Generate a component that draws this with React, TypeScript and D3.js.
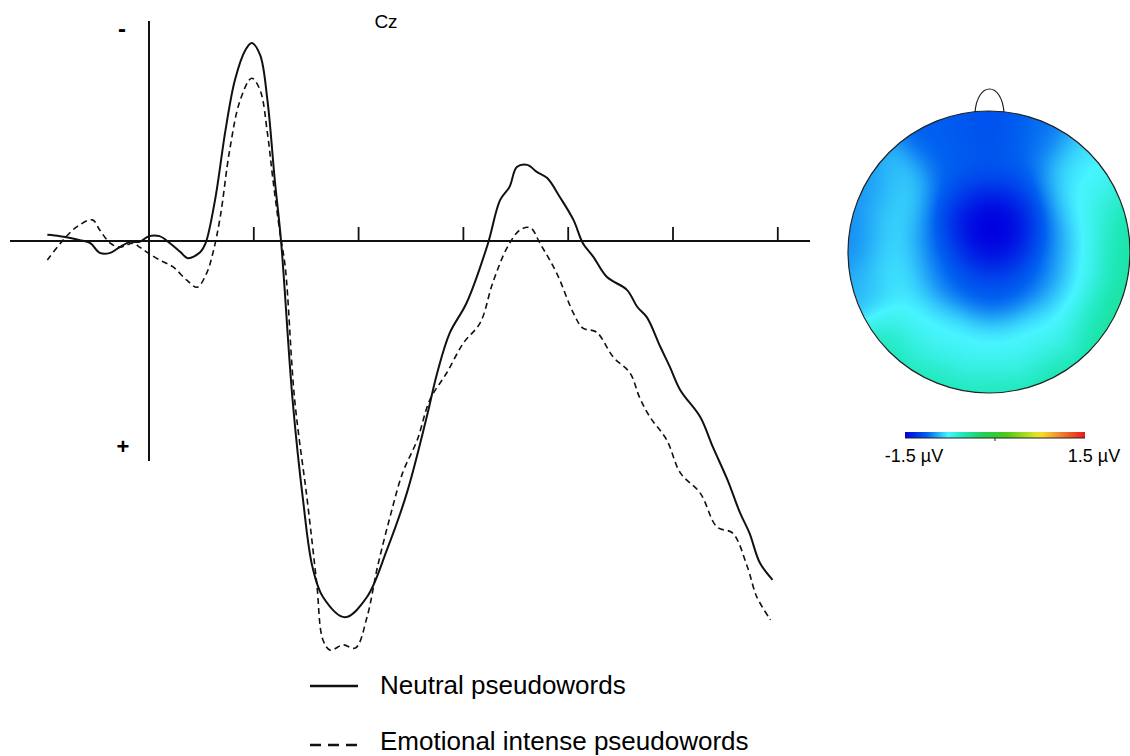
import { useMemo } from "react";
import * as d3 from "d3";

// ERP at Cz, time in ms, amplitude in µV (negative plotted up)
const neutralTime = [-97, -85, -75, -66, -56, -47, -37, -28, -18, -9, 0, 10, 20, 30, 37, 49, 54, 63, 73, 82, 92, 98, 106, 113, 120, 126, 137, 147, 156, 166, 187, 208, 227, 246, 265, 275, 287, 303, 323, 335, 344, 351, 361, 370, 380, 392, 405, 414, 424, 437, 456, 466, 475, 488, 497, 507, 526, 538, 552, 564, 573, 583, 595];
const neutralAmp = [-0.14, -0.11, -0.07, -0.02, 0.05, 0.27, 0.27, 0.14, 0.02, 0.02, -0.11, -0.11, 0.05, 0.25, 0.39, 0.25, 0.05, -0.93, -2.52, -3.66, -4.34, -4.5, -4.23, -3.2, -1.39, 0, 3.61, 5.89, 7.41, 8.09, 8.55, 8.09, 7.02, 5.73, 4.0, 3.0, 2.09, 1.41, 0.09, -0.93, -1.23, -1.68, -1.73, -1.57, -1.43, -1.0, -0.48, 0.05, 0.36, 0.82, 1.11, 1.5, 1.73, 2.41, 2.86, 3.39, 4.0, 4.68, 5.43, 6.18, 6.64, 7.32, 7.7];

const emotionalTime = [-97, -82, -69, -54, -47, -37, -28, -15, -9, -1, 10, 23, 36, 46, 55, 61, 68, 77, 87, 98, 106, 113, 118, 125, 130, 139, 151, 160, 166, 173, 185, 197, 208, 218, 230, 242, 256, 268, 284, 300, 316, 328, 342, 354, 364, 373, 389, 405, 414, 427, 443, 459, 468, 478, 494, 507, 526, 542, 557, 571, 580, 593];
const emotionalAmp = [0.43, -0.02, -0.32, -0.48, -0.25, 0.05, 0.14, 0.05, 0.14, 0.27, 0.43, 0.59, 0.89, 1.05, 0.73, 0.27, -0.55, -2.07, -3.2, -3.7, -3.43, -2.45, -1.45, -0.18, 0.59, 3.61, 5.89, 7.77, 9.07, 9.3, 9.18, 9.25, 8.55, 7.41, 6.27, 5.27, 4.52, 3.61, 3.0, 2.32, 1.86, 0.95, 0.14, -0.25, -0.3, 0.05, 0.73, 1.64, 1.98, 2.07, 2.64, 3.0, 3.55, 4.0, 4.52, 5.27, 5.73, 6.5, 6.64, 7.41, 8.09, 8.61];

const tickTimes = [100, 200, 300, 400, 500, 600];
const legendLabels = ["Neutral pseudowords", "Emotional intense pseudowords"];

// scalp map: sampled positions on the unit head (x right, y toward back) and amplitude in µV
const sensorX = [
  0.03, 0.03, -0.12, 0.18,
  -0.37, -0.3, 0.03, 0.35, 0.42, 0.3, 0.03, -0.25,
  -0.62, -0.64, -0.62, -0.55, -0.4, -0.2, 0.03, 0.25, 0.45, 0.6, 0.67, 0.67, 0.63, 0.6,
  0.03, -0.35, 0.35, 0.72,
  -0.93, -0.88, -0.82,
  -0.7, -0.35, 0.05, 0.45, 0.78,
  0.95, 0.9, 0.97, 0.88, 0.82,
];
const sensorY = [
  -0.24, 0.0, -0.2, -0.2,
  -0.1, 0.2, 0.32, 0.2, -0.1, -0.4, -0.5, -0.42,
  -0.45, -0.15, 0.15, 0.42, 0.58, 0.68, 0.71, 0.68, 0.55, 0.35, 0.1, -0.12, -0.32, -0.5,
  -0.82, -0.75, -0.78, -0.64,
  -0.1, 0.3, -0.45,
  0.65, 0.9, 0.97, 0.87, 0.58,
  0.15, -0.25, -0.05, 0.42, -0.5,
];
const sensorAmp = [
  -1.7, -1.4, -1.5, -1.5,
  -1.15, -1.15, -1.15, -1.15, -1.15, -1.15, -1.15, -1.15,
  -0.8, -0.78, -0.78, -0.78, -0.78, -0.78, -0.78, -0.78, -0.78, -0.78, -0.78, -0.78, -0.78, -0.8,
  -1.2, -1.15, -1.1, -0.88,
  -1.05, -0.95, -1.05,
  -0.5, -0.5, -0.5, -0.45, -0.45,
  -0.45, -0.5, -0.45, -0.42, -0.65,
];

const colorFractions = [0, 0.12, 0.24, 0.32, 0.42, 0.55, 0.68, 0.75, 0.85, 1];
const colorRange = ["#0000e0", "#0060f0", "#48f4ff", "#1ee8b8", "#20d060", "#40c818", "#b0dc20", "#f8e428", "#f29030", "#e81818"];
const scaleLimits = [-1.5, 1.5];
const scaleLabels = ["-1.5 µV", "1.5 µV"];

const font = "'Liberation Sans', Arial, Helvetica, sans-serif";

export default function App() {
  const W = 1130;
  const H = 756;

  const x = d3.scaleLinear().domain([0, 600]).range([149, 777.8]);
  const y = d3.scaleLinear().domain([-5, 5]).range([21, 461]);

  const line = d3
    .line<[number, number]>()
    .x(d => x(d[0]))
    .y(d => y(d[1]))
    .curve(d3.curveCatmullRom.alpha(0.5));

  const neutral = neutralTime.map((t, i) => [t, neutralAmp[i]] as [number, number]);
  const emotional = emotionalTime.map((t, i) => [t, emotionalAmp[i]] as [number, number]);

  const color = d3
    .scaleLinear<string>()
    .domain(colorFractions.map(f => scaleLimits[0] + f * (scaleLimits[1] - scaleLimits[0])))
    .range(colorRange)
    .clamp(true);

  // head geometry
  const cx = 989;
  const cy = 252;
  const r = 141;

  const topoUrl = useMemo(() => {
    const size = r * 2;
    const canvas = document.createElement("canvas");
    canvas.width = size;
    canvas.height = size;
    const ctx = canvas.getContext("2d");
    if (!ctx) return "";
    const img = ctx.createImageData(size, size);
    const sigma = 0.16;
    for (let j = 0; j < size; j++) {
      for (let i = 0; i < size; i++) {
        const nx = (i + 0.5 - r) / r;
        const ny = (j + 0.5 - r) / r;
        if (nx * nx + ny * ny > 1.03) continue;
        let sw = 0;
        let sv = 0;
        for (let k = 0; k < sensorX.length; k++) {
          const dx = nx - sensorX[k];
          const dy = ny - sensorY[k];
          const w = Math.exp(-(dx * dx + dy * dy) / (2 * sigma * sigma));
          sw += w;
          sv += w * sensorAmp[k];
        }
        const c = d3.rgb(color(sv / sw));
        const p = (j * size + i) * 4;
        img.data[p] = c.r;
        img.data[p + 1] = c.g;
        img.data[p + 2] = c.b;
        img.data[p + 3] = 255;
      }
    }
    ctx.putImageData(img, 0, 0);
    return canvas.toDataURL();
  }, []);

  const barX = d3.scaleLinear().domain(scaleLimits).range([905, 1085]);
  const gradStops = d3.range(0, 1.0001, 0.04);

  return (
    <svg width={W} height={H} style={{ position: "absolute", left: 0, top: 0, background: "#fff" }}>
      <defs>
        <clipPath id="head">
          <circle cx={cx} cy={cy} r={r} />
        </clipPath>
        <linearGradient id="bar" x1="0" x2="1" y1="0" y2="0">
          {gradStops.map(f => (
            <stop key={f} offset={f} stopColor={color(scaleLimits[0] + f * 3)} />
          ))}
        </linearGradient>
      </defs>

      {/* axes */}
      <line x1={10} x2={810} y1={y(0)} y2={y(0)} stroke="#111" strokeWidth={2} />
      <line x1={x(0)} x2={x(0)} y1={y(-5)} y2={y(5)} stroke="#111" strokeWidth={2} />
      {tickTimes.map(t => (
        <line key={t} x1={x(t)} x2={x(t)} y1={y(0) - 14} y2={y(0)} stroke="#111" strokeWidth={1.8} />
      ))}
      <text x={122} y={37} fontFamily={font} fontSize={24} fontWeight="bold" textAnchor="middle">-</text>
      <text x={123} y={454} fontFamily={font} fontSize={22} fontWeight="bold" textAnchor="middle">+</text>
      <text x={386} y={28} fontFamily={font} fontSize={19} textAnchor="middle">Cz</text>

      {/* ERP curves */}
      <path d={line(emotional) ?? ""} fill="none" stroke="#111" strokeWidth={1.6} strokeDasharray="6 4" />
      <path d={line(neutral) ?? ""} fill="none" stroke="#111" strokeWidth={2} />

      {/* legend */}
      <line x1={310} x2={358} y1={686} y2={686} stroke="#111" strokeWidth={2.5} />
      <text x={380} y={694} fontFamily={font} fontSize={26}>{legendLabels[0]}</text>
      <line x1={310} x2={358} y1={745} y2={745} stroke="#111" strokeWidth={2.5} strokeDasharray="11 7" />
      <text x={380} y={750} fontFamily={font} fontSize={26}>{legendLabels[1]}</text>

      {/* scalp map */}
      <path
        d={`M ${cx - 14} ${cy - r + 2} C ${cx - 12} ${cy - r - 30}, ${cx + 13} ${cy - r - 30}, ${cx + 15} ${cy - r + 2}`}
        fill="none"
        stroke="#222"
        strokeWidth={1.2}
      />
      <image href={topoUrl} x={cx - r} y={cy - r} width={2 * r} height={2 * r} clipPath="url(#head)" />
      <circle cx={cx} cy={cy} r={r} fill="none" stroke="#222" strokeWidth={1.2} />

      {/* colour scale */}
      <rect x={barX(-1.5)} y={432} width={barX(1.5) - barX(-1.5)} height={6} fill="url(#bar)" />
      <line x1={barX(-1.5)} x2={barX(1.5)} y1={438} y2={438} stroke="#222" strokeWidth={1} />
      <line x1={barX(0)} x2={barX(0)} y1={438} y2={441} stroke="#222" strokeWidth={1} />
      <text x={914} y={462} fontFamily={font} fontSize={18} textAnchor="middle">{scaleLabels[0]}</text>
      <text x={1094} y={462} fontFamily={font} fontSize={18} textAnchor="middle">{scaleLabels[1]}</text>
    </svg>
  );
}
